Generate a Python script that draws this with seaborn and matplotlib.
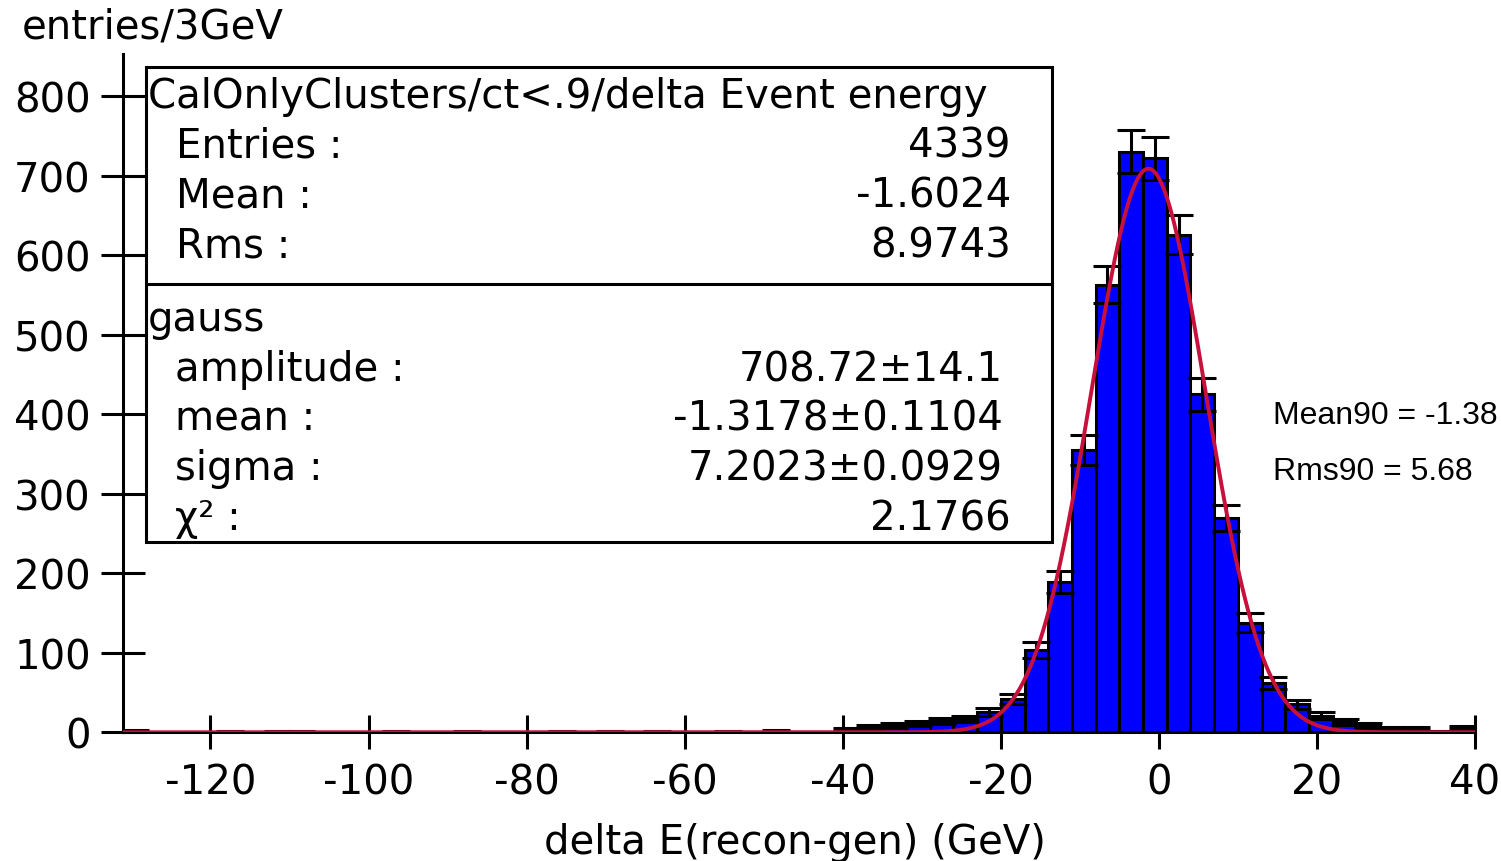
import numpy as np
import pandas as pd
import matplotlib
matplotlib.use("Agg")
import matplotlib.pyplot as plt
import seaborn as sns
from matplotlib.patches import Rectangle
from matplotlib.lines import Line2D

# ---------------- data ----------------
bin_start = -131
bin_width = 3
bin_stop = 40
counts = [2, 0, 0, 0, 1, 0, 1, 1, 0, 0, 0, 1, 0, 0, 1, 0, 0, 0, 1, 0,
          1, 0, 1, 0, 0, 1, 0, 2, 0, 0, 4, 7, 9, 11, 14, 17, 26, 42, 103, 189,
          355, 563, 730, 722, 626, 425, 270, 138, 62, 35, 21, 13, 9, 5, 5, 1, 6]
fit_amplitude = 708.72
fit_mean = -1.3178
fit_sigma = 7.2023
x_ticks = [-120, -100, -80, -60, -40, -20, 0, 20, 40]
y_ticks = [0, 100, 200, 300, 400, 500, 600, 700, 800]

box_title = "CalOnlyClusters/ct<.9/delta Event energy"
hist_stat_names = ["Entries :", "Mean :", "Rms :"]
hist_stat_values = ["4339", "-1.6024", "8.9743"]
fit_title = "gauss"
fit_stat_names = ["amplitude :", "mean :", "sigma :", "χ² :"]
fit_stat_values = ["708.72±14.1", "-1.3178±0.1104", "7.2023±0.0929", "2.1766"]
extra_lines = ["Mean90 = -1.38", "Rms90 = 5.68"]

# ---------------- style ----------------
sns.set_style("ticks")
plt.rcParams["font.family"] = ["DejaVu Sans"]
plt.rcParams["axes.unicode_minus"] = False
for k in ["text.color", "axes.labelcolor", "xtick.color", "ytick.color",
          "xtick.labelcolor", "ytick.labelcolor", "axes.edgecolor"]:
    plt.rcParams[k] = "black"

W, H = 1501, 862
fig = plt.figure(figsize=(W / 100, H / 100), dpi=100)
fig.patch.set_facecolor("white")
ax = fig.add_axes([123.5 / W, 1 - 733.3 / H, (1475 - 123.5) / W, (733.3 - 55) / H])
ax.set_facecolor("white")

edges = [float(e) for e in np.arange(bin_start, bin_stop + 1, bin_width)]
counts_arr = np.array(counts, dtype=float)
edges_arr = np.array(edges)
centers = (edges_arr[:-1] + edges_arr[1:]) / 2
df = pd.DataFrame({"center": centers, "count": counts_arr})

sns.histplot(data=df, x="center", weights="count", bins=edges, stat="count",
             color="#0000ff", edgecolor="black",
             linewidth=2.2, alpha=1, ax=ax, zorder=2)

mask = counts_arr > 0
ax.errorbar(centers[mask], counts_arr[mask], yerr=np.sqrt(counts_arr[mask]),
            fmt="none", ecolor="black", elinewidth=2.2, capsize=9.8,
            capthick=2.2, zorder=3)

xs = np.linspace(bin_start, bin_stop, 1200)
ys = fit_amplitude * np.exp(-0.5 * ((xs - fit_mean) / fit_sigma) ** 2)
fit_df = pd.DataFrame({"x": xs, "y": ys})
sns.lineplot(data=fit_df, x="x", y="y", color="#c8103c", linewidth=2.8,
             estimator=None, ax=ax, zorder=4)

fs = 29

ax.set_xlim(bin_start, bin_stop)
ax.set_ylim(0, 853)
ax.set_xticks(x_ticks)
ax.set_yticks(y_ticks)
ax.tick_params(axis="x", direction="inout", length=23.8, width=2.2,
               labelsize=fs, pad=10)
ax.tick_params(axis="y", direction="inout", length=31, width=2.2,
               labelsize=fs, pad=8)
for s in ["top", "right"]:
    ax.spines[s].set_visible(False)
for s in ["left", "bottom"]:
    ax.spines[s].set_linewidth(2.2)
    ax.spines[s].set_color("black")
ax.grid(False)

ax.set_xlabel("delta E(recon-gen) (GeV)", fontsize=fs, va="center")
ax.xaxis.set_label_coords((795 - 123.5) / (1475 - 123.5), (733.3 - 843) / (733.3 - 55))
ax.set_ylabel("entries/3GeV", fontsize=fs, rotation=0, ha="left", va="center")
ax.yaxis.set_label_coords((22 - 123.5) / (1475 - 123.5), (733.3 - 27) / (733.3 - 55))


def fx(x):
    return x / W


def fy(y):
    return 1 - y / H


# stats box
box = Rectangle((fx(146), fy(543)), (1052 - 146) / W, (543 - 68) / H,
                transform=fig.transFigure, facecolor="white",
                edgecolor="black", linewidth=2.2, zorder=5)
fig.patches.append(box)
fig.lines.append(Line2D([fx(146), fx(1052)], [fy(285), fy(285)],
                        transform=fig.transFigure, color="black",
                        linewidth=2.2, zorder=6))

fig.text(fx(148), fy(97), box_title, fontsize=fs, ha="left", va="center", zorder=7)
for i, (n, v) in enumerate(zip(hist_stat_names, hist_stat_values)):
    y = 146 + 50 * i
    fig.text(fx(176), fy(y), n, fontsize=fs, ha="left", va="center", zorder=7)
    fig.text(fx(1011), fy(y), v, fontsize=fs, ha="right", va="center", zorder=7)

fig.text(fx(148), fy(320), fit_title, fontsize=fs, ha="left", va="center", zorder=7)
fit_right = [1003, 1003, 1003, 1011]
for i, (n, v) in enumerate(zip(fit_stat_names, fit_stat_values)):
    y = 370 + 49.7 * i
    fig.text(fx(175), fy(y), n, fontsize=fs, ha="left", va="center", zorder=7)
    fig.text(fx(fit_right[i]), fy(y), v, fontsize=fs, ha="right", va="center", zorder=7)

for i, t in enumerate(extra_lines):
    fig.text(fx(1273), fy(416 + 56 * i), t, fontsize=23,
             family=["Liberation Sans", "DejaVu Sans"], ha="left", va="center")

fig.savefig("out.png", dpi=100, facecolor="white")
